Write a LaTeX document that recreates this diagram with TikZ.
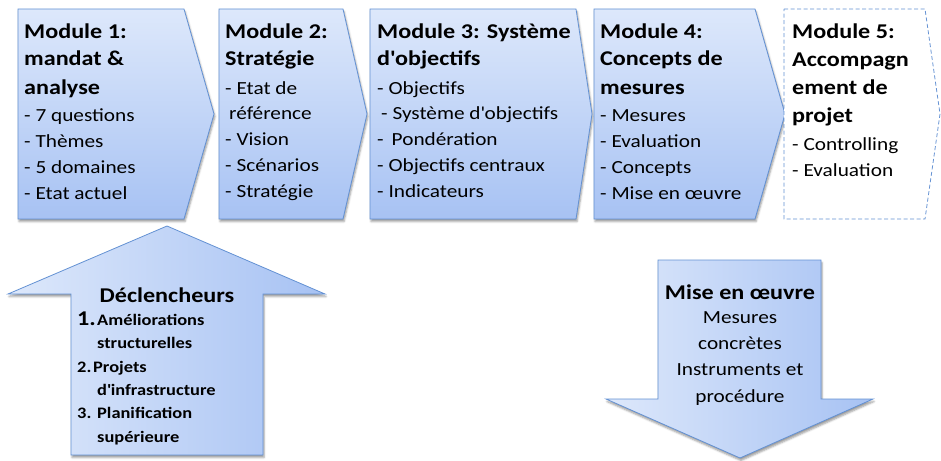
\documentclass[tikz,border=0pt]{standalone}
\usepackage{fontspec}
\setmainfont{Carlito}[FakeStretch=1.15]
\usetikzlibrary{shadows.blur}
\definecolor{boxtop}{HTML}{DDE8FB}
\definecolor{boxbot}{HTML}{A7C2F3}
\definecolor{boxline}{HTML}{6391D3}
\newcommand{\apo}{\textquotesingle}
\tikzset{
    SH/.style ={blur shadow={shadow xshift=1pt, shadow yshift=-2.5pt, shadow blur radius=2pt, shadow opacity=40}},
    MB/.style ={draw=boxline, line width=0.8pt, top color=boxtop, bottom color=boxbot, SH},
    MD/.style ={draw=boxline, line width=0.8pt, dash pattern=on 4pt off 2.5pt, fill=white},
    AR/.style ={draw=boxline, line width=0.8pt, left color=boxtop, right color=boxbot, SH},
    TT/.style ={font=\bfseries\fontsize{21}{28}\selectfont, align=left, inner sep=0pt, anchor=base west},
    IT/.style ={font=\fontsize{18.5}{25.7}\selectfont, align=left, inner sep=0pt, anchor=base west}}

\begin{document}
\begin{tikzpicture}[x=1pt,y=-1pt]
        \useasboundingbox (0,0) rectangle (941,460);
        % module chevrons
        \path[MB] (18,9) -- (184,9) -- (214,114) -- (184,219) -- (18,219) -- cycle;
        \path[MB] (219,9) -- (343,9) -- (367,114) -- (343,219) -- (219,219) -- cycle;
        \path[MB] (370,9) -- (576,9) -- (592,114) -- (576,219) -- (370,219) -- cycle;
        \path[MB] (594,9) -- (755,9) -- (785,114) -- (755,219) -- (594,219) -- cycle;
        \path[MD] (784,9) -- (925,9) -- (940,114) -- (925,219) -- (784,219) -- cycle;
        % big arrows
        \path[AR] (167,226) -- (325,294) -- (263,294) -- (263,455) -- (71,455) -- (71,294) -- (8,294) -- cycle;
        \path[AR] (658,260) -- (821,260) -- (821,399) -- (873,399) -- (740,458) -- (606,399) -- (658,399) -- cycle;
        % module texts (base = last line)
        \node[TT] (t1) at (24,94) {Module 1:\\mandat \&\\analyse};
        \node[IT] (l1) at (24,199) {- 7 questions\\- Thèmes\\- 5 domaines\\- Etat actuel};
        \node[TT] (t2) at (225,66) {Module 2:\\Stratégie};
        \node[IT] (l2) at (225,197) {- Etat de\\\hspace*{4pt}référence\\- Vision\\- Scénarios\\- Stratégie};
        \node[TT] (t3) at (377,66) {Module 3: Système\\d\apo objectifs};
        \node[IT] (l3) at (377,197) {- Objectifs\\\hspace*{4pt}- Système d\apo objectifs\\-\hspace*{8pt}Pondération\\- Objectifs centraux\\- Indicateurs};
        \node[TT] (t4) at (600,94) {Module 4:\\Concepts de\\mesures};
        \node[IT] (l4) at (600,199) {- Mesures\\- Evaluation\\- Concepts\\- Mise en œuvre};
        \node[TT] (t5) at (792,122) {Module 5:\\Accompagn\\ement de\\projet};
        \node[IT] (l5) at (792,176) {- Controlling\\- Evaluation};
        % arrow texts
        \node[TT,anchor=base] (dt) at (167,302) {Déclencheurs};
        \node[IT,font=\bfseries\fontsize{16}{23.3}\selectfont] (dl) at (77,442)
            {\makebox[20pt][l]{\fontsize{21}{23.3}\selectfont 1.}Améliorations\\\hspace*{20pt}structurelles\\\makebox[16pt][l]{2.}Projets\\\hspace*{20pt}d\apo infrastructure\\\makebox[20pt][l]{3.}Planification\\\hspace*{20pt}supérieure};
        \node[TT,anchor=base] (mt) at (740,299) {Mise en œuvre};
        \node[IT,anchor=base,align=center,font=\fontsize{18.5}{26.3}\selectfont] (ml) at (740,402) {Mesures\\concrètes\\Instruments et\\procédure};
    \end{tikzpicture}
\end{document}
